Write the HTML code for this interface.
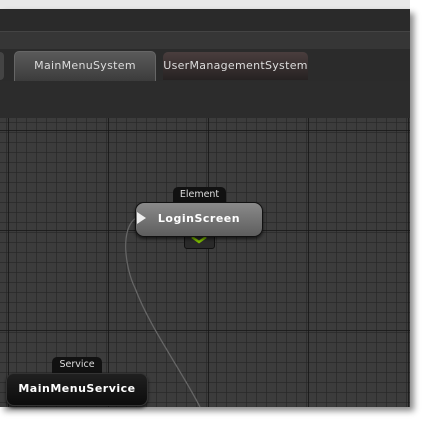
<!DOCTYPE html>
<html><head><style>
body{margin:0;width:425px;height:421px;background:#fff;position:relative;overflow:hidden;font-family:"DejaVu Sans","Liberation Sans",sans-serif}
.a{position:absolute}
</style></head><body>
<div class="a" style="left:0;top:0;width:410px;height:9px;background:#e8e8e8;border-bottom:1px solid #bbb"></div>
<div class="a" style="left:0;top:9px;width:410px;height:398px;background:#2a2a2a;box-shadow:4px 4px 6px rgba(0,0,0,.45)"></div>
<div class="a" style="left:0;top:31px;width:410px;height:18px;background:#363636;border-top:1px solid #444"></div>
<div class="a" style="left:0;top:49px;width:410px;height:32px;background:#2b2b2b"></div>
<div class="a" style="left:-10px;top:52px;width:14px;height:28px;background:#444;border-radius:4px"></div>
<div class="a" style="left:14px;top:51px;width:140px;height:29px;background:linear-gradient(#5a5a5a,#3c3c3c);border-radius:5px 5px 0 0;border:1px solid #666;border-bottom:none;color:#ddd;font-size:11px;letter-spacing:.3px;line-height:28px;text-align:center">MainMenuSystem</div>
<div class="a" style="left:163px;top:52px;width:145px;height:28px;background:linear-gradient(#4a3e3e,#262222);border-radius:5px 5px 0 0;color:#ddd;font-size:11px;letter-spacing:.3px;line-height:27px;text-align:center">UserManagementSystem</div>
<div class="a" style="left:0;top:81px;width:410px;height:37px;background:#2c2c2c"></div>
<svg class="a" style="left:0;top:118px" width="410" height="289">
<defs>
<pattern id="m" width="10" height="10" patternUnits="userSpaceOnUse" x="8" y="12"><rect width="10" height="10" fill="#3c3c3c"/><path d="M0 0H10M0 0V10" stroke="#262626" stroke-width="1.3"/></pattern>
<pattern id="M" width="100" height="100" patternUnits="userSpaceOnUse" x="8" y="12"><rect width="100" height="100" fill="url(#m)"/><path d="M0 0H100M0 0V100" stroke="#151515" stroke-width="1.6"/></pattern>
</defs>
<rect width="410" height="289" fill="url(#M)"/>
<path d="M136 100 C120 110,125 150,135 170 C150 210,180 250,200 289" fill="none" stroke="#666" stroke-width="1.3"/>
</svg>
<div class="a" style="left:173px;top:187px;width:53px;height:16px;background:#111;border-radius:5px 5px 0 0;color:#ddd;font-size:9.5px;text-align:center;line-height:15px">Element</div>
<div class="a" style="left:184px;top:232px;width:29px;height:15px;background:#2a2a2a;border:1px solid #111;border-radius:0 0 3px 3px"></div>
<svg class="a" style="left:190px;top:235px" width="18" height="10"><path d="M2 2L9 7L16 2" fill="none" stroke="#7ab800" stroke-width="2.5"/></svg>
<div class="a" style="left:135px;top:202px;width:126px;height:33px;background:linear-gradient(#8a8a8a,#5e5e5e);border:1.5px solid #111;border-radius:9px;color:#fff;font-weight:bold;font-size:11px;letter-spacing:.5px;text-align:center;line-height:32px;box-shadow:0 2px 3px rgba(0,0,0,.6)">LoginScreen</div>
<svg class="a" style="left:136px;top:210px" width="12" height="16"><path d="M1 2L10 8L1 14Z" fill="#eee"/></svg>
<div class="a" style="left:52px;top:357px;width:50px;height:17px;background:#111;border-radius:5px 5px 0 0;color:#ddd;font-size:9.5px;text-align:center;line-height:16px">Service</div>
<div class="a" style="left:6px;top:373px;width:140px;height:31px;background:linear-gradient(#202020,#0c0c0c);border:1.5px solid #333;border-radius:8px;color:#fff;font-weight:bold;font-size:11px;letter-spacing:.5px;text-align:center;line-height:30px;box-shadow:0 2px 3px rgba(0,0,0,.7)">MainMenuService</div>
</body></html>
